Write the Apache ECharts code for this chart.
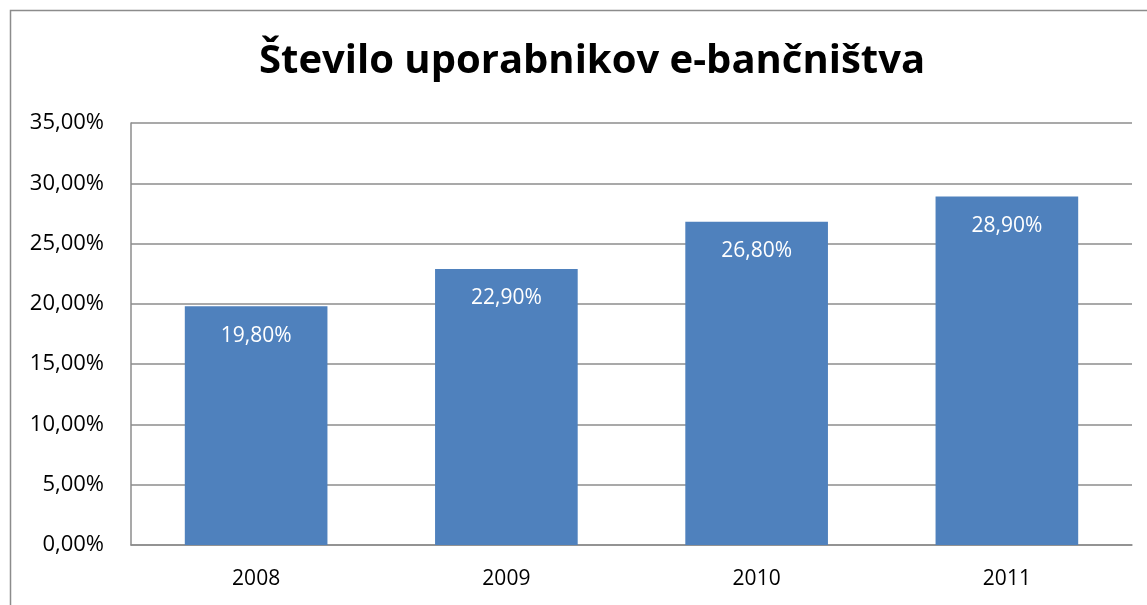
<!DOCTYPE html>
<html><head><meta charset="utf-8">
<script src="https://cdn.jsdelivr.net/npm/echarts@6/dist/echarts.min.js"></script>
<style>html,body{margin:0;padding:0;background:#fff}#c{width:1147px;height:605px}</style>
</head><body><div id="c"></div>
<script>
const titleText = 'Število uporabnikov e-bančništva';
const categories = ['2008', '2009', '2010', '2011'];
const values = [19.8, 22.9, 26.8, 28.9];
const yMin = 0, yMax = 35, yStep = 5;

const fmt = v => v.toFixed(2).replace('.', ',') + '%';
const chart = echarts.init(document.getElementById('c'));
chart.setOption({
  animation: false,
  backgroundColor: '#fff',
  title: {
    text: titleText, left: 254, top: 37,
    textStyle: { fontFamily: 'Open Sans', fontWeight: 'bold', fontSize: 40, color: '#000' }
  },
  graphic: [{
    type: 'rect', shape: { x: 10.5, y: 10.5, width: 1250, height: 700 },
    style: { fill: 'none', stroke: '#8c8c8c', lineWidth: 1.5 }, silent: true
  }],
  grid: { left: 131, right: 15, top: 123, bottom: 60, containLabel: false },
  xAxis: {
    type: 'category', data: categories,
    axisLine: { lineStyle: { color: '#8c8c8c', width: 1.5 } },
    axisTick: { show: false },
    axisLabel: { color: '#000', fontFamily: 'Open Sans', fontSize: 21, margin: 24 }
  },
  yAxis: {
    type: 'value', min: yMin, max: yMax, interval: yStep,
    axisLine: { show: true, lineStyle: { color: '#8c8c8c', width: 1.5 } },
    axisTick: { show: false },
    splitLine: { lineStyle: { color: '#8c8c8c', width: 1.5 } },
    axisLabel: { color: '#000', fontFamily: 'Open Sans', fontSize: 22, margin: 27, formatter: v => fmt(v) }
  },
  series: [{
    type: 'bar', data: values, barCategoryGap: '43%',
    itemStyle: { color: '#4F81BD' },
    label: {
      show: true, position: 'insideTop', distance: 19, color: '#fff',
      fontFamily: 'Open Sans', fontSize: 21, formatter: p => fmt(p.value)
    }
  }]
});
</script></body></html>
